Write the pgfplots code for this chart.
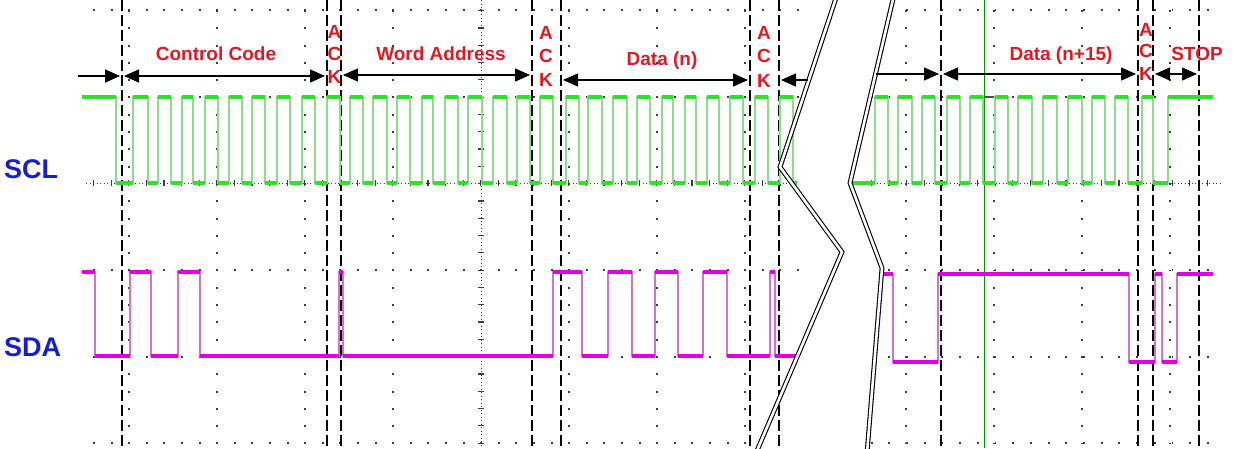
\documentclass[border=0pt]{standalone}
\usepackage{fontspec}
\setmainfont{Liberation Sans}
\usepackage{pgfplots}
\pgfplotsset{compat=1.18}
\usetikzlibrary{arrows.meta}
\definecolor{sclgreen}{RGB}{45,225,45}
\definecolor{sclgreenedge}{RGB}{140,222,140}
\definecolor{sdamag}{RGB}{225,0,225}
\definecolor{sdamagedge}{RGB}{210,115,210}
\definecolor{lblred}{RGB}{225,25,35}
\definecolor{lblblue}{RGB}{25,30,205}
\definecolor{gridgray}{RGB}{60,60,60}
\definecolor{markgreen}{RGB}{0,150,0}
\tikzset{
  arr/.style={black, line width=1.3pt},
  tri/.tip={Triangle[length=15pt,width=13pt]},
  dashv/.style={black, line width=1.7pt, dash pattern=on 11pt off 4pt},
  lbl/.style={text=lblred, font=\fontsize{19}{21}\selectfont\bfseries, inner sep=0pt, anchor=base},
  sig/.style={text=lblblue, font=\fontsize{27}{29}\selectfont\bfseries, inner sep=0pt, anchor=base west},
}
\begin{document}
\begin{tikzpicture}
\begin{axis}[
  width=1234pt, height=448pt, scale only axis,
  xmin=0, xmax=1234, ymin=0, ymax=448, y dir=reverse,
  axis line style={draw=none}, ticks=none,
  axis background/.style={fill=white},
  clip=true,
]
% ---------------- grid (left screen) ----------------
\pgfplotsinvokeforeach{10,97,270,357,443}{
  \addplot[gridgray, line width=1.9pt, dash pattern=on 1.9pt off 15.7pt] coordinates {(93,#1) (800,#1)};
}
\pgfplotsinvokeforeach{129,217,305,393,569,657,745}{
  \addplot[gridgray, line width=1.9pt, dash pattern=on 1.9pt off 15.4pt] coordinates {(#1,-7.3) (#1,448)};
}
% centre axes (left)
\addplot[gridgray, line width=1pt, dash pattern=on 1pt off 2.5pt] coordinates {(86,183) (800,183)};
\addplot[gridgray, line width=6pt, dash pattern=on 1.2pt off 16.4pt] coordinates {(93,183) (800,183)};
\addplot[gridgray, line width=1pt, dash pattern=on 1pt off 2.5pt] coordinates {(481,0) (481,448)};
\addplot[gridgray, line width=6pt, dash pattern=on 1.2pt off 16.1pt] coordinates {(481,-7.3) (481,448)};
% ---------------- grid (right screen) ----------------
\pgfplotsinvokeforeach{10,97,270,357,443}{
  \addplot[gridgray, line width=1.9pt, dash pattern=on 1.9pt off 15.8pt] coordinates {(870.6,#1) (1222,#1)};
}
\pgfplotsinvokeforeach{906,994,1082,1170}{
  \addplot[gridgray, line width=1.9pt, dash pattern=on 1.9pt off 15.4pt] coordinates {(#1,-7.3) (#1,448)};
}
\addplot[gridgray, line width=1pt, dash pattern=on 1pt off 2.5pt] coordinates {(852,183) (1222,183)};
\addplot[gridgray, line width=6pt, dash pattern=on 1.2pt off 16.5pt] coordinates {(870.6,183) (1222,183)};
% blank band between the break lines
\addplot[fill=white, draw=none] coordinates {(837,-5) (780,167) (842,252) (756,453) (867,453) (882,268) (850,183) (894,-5)};
% ---------------- marker lines ----------------
\pgfplotsinvokeforeach{122,327,341,532,561,750,779,941,1138,1153,1199}{
  \addplot[dashv] coordinates {(#1,0) (#1,448)};
}
\addplot[markgreen, line width=1pt] coordinates {(984,0) (984,448)};
\addplot[black!70, line width=1.2pt] coordinates {(984,97) (998,97)};
% ---------------- SCL ----------------
\addplot[sclgreenedge, line width=1.7pt, const plot] coordinates {
(82,97) (116,183) (133,97) (148,183) (158,97) (171,183) (182,97) (193,183)
(205,97) (218,183) (229,97) (242,183) (252,97) (265,183) (277,97) (290,183)
(302,97) (315,183) (327,97) (340,183) (350,97) (363,183) (373,97) (387,183)
(397,97) (410,183) (422,97) (433,183) (445,97) (458,183) (468,97) (482,183)
(493,97) (507,183) (517,97) (530,183) (540,97) (553,183) (566,97) (579,183)
(588,97) (602,183) (613,97) (627,183) (637,97) (650,183) (662,97) (673,183)
(685,97) (696,183) (707,97) (719,183) (730,97) (743,183) (755,97) (768,183)
(780,97) (793,183) (797,183)};
\addplot[sclgreen, line width=4pt, jump mark left] coordinates {
(82,97) (116,183) (133,97) (148,183) (158,97) (171,183) (182,97) (193,183)
(205,97) (218,183) (229,97) (242,183) (252,97) (265,183) (277,97) (290,183)
(302,97) (315,183) (327,97) (340,183) (350,97) (363,183) (373,97) (387,183)
(397,97) (410,183) (422,97) (433,183) (445,97) (458,183) (468,97) (482,183)
(493,97) (507,183) (517,97) (530,183) (540,97) (553,183) (566,97) (579,183)
(588,97) (602,183) (613,97) (627,183) (637,97) (650,183) (662,97) (673,183)
(685,97) (696,183) (707,97) (719,183) (730,97) (743,183) (755,97) (768,183)
(780,97) (793,183) (797,183)};
\addplot[sclgreenedge, line width=1.7pt, const plot] coordinates {
(852,183) (875,97) (888,183) (898,97) (912,183) (922,97) (935,183) (947,97)
(960,183) (970,97) (983,183) (995,97) (1008,183) (1018,97) (1032,183) (1043,97)
(1057,183) (1068,97) (1082,183) (1092,97) (1105,183) (1115,97) (1128,183)
(1142,97) (1153,183) (1168,97) (1213,97)};
\addplot[sclgreen, line width=4pt, jump mark left] coordinates {
(852,183) (875,97) (888,183) (898,97) (912,183) (922,97) (935,183) (947,97)
(960,183) (970,97) (983,183) (995,97) (1008,183) (1018,97) (1032,183) (1043,97)
(1057,183) (1068,97) (1082,183) (1092,97) (1105,183) (1115,97) (1128,183)
(1142,97) (1153,183) (1168,97) (1213,97)};
% ---------------- SDA ----------------
\addplot[sdamagedge, line width=1.7pt, const plot] coordinates {
(82,272) (95,356) (130,272) (151,356) (178,272) (200,356) (339,272) (343,356)
(553,272) (582,356) (608,272) (632,356) (655,272) (678,356) (703,272) (727,356)
(770,272) (775,356) (798,356)};
\addplot[sdamag, line width=3.8pt, jump mark left] coordinates {
(82,272) (95,356) (130,272) (151,356) (178,272) (200,356) (339,272) (343,356)
(553,272) (582,356) (608,272) (632,356) (655,272) (678,356) (703,272) (727,356)
(770,272) (775,356) (798,356)};
\addplot[sdamagedge, line width=1.7pt, const plot] coordinates {
(881,274) (893,362) (938,274) (1129,362) (1155,274) (1162,362) (1177,274) (1213,274)};
\addplot[sdamag, line width=3.8pt, jump mark left] coordinates {
(881,274) (893,362) (938,274) (1129,362) (1155,274) (1162,362) (1177,274) (1213,274)};
% ---------------- break lines ----------------
\addplot[black, line width=1.1pt, double=white, double distance=2.6pt] coordinates {(837,-5) (780,167) (842,252) (756,453)};
\addplot[black, line width=1.1pt, double=white, double distance=2.6pt] coordinates {(894,-5) (850,183) (882,268) (867,453)};
% ---------------- arrows ----------------
\addplot[arr, -{tri}] coordinates {(78,76) (120,76)};
\addplot[arr, {tri}-{tri}] coordinates {(124,76) (325,76)};
\addplot[arr, {tri}-{tri}] coordinates {(343,75) (530,75)};
\addplot[arr, {tri}-{tri}] coordinates {(563,80) (748,80)};
\addplot[arr, {tri}-] coordinates {(781,80) (808,80)};
\addplot[arr, -{tri}] coordinates {(876,74) (939,74)};
\addplot[arr, {tri}-{tri}] coordinates {(943,74) (1136,74)};
\addplot[arr, {tri}-{tri}] coordinates {(1155,74) (1197,74)};
% ---------------- labels ----------------
\node[lbl] at (axis cs:216,60) {Control Code};
\node[lbl] at (axis cs:441,60) {Word Address};
\node[lbl] at (axis cs:662,65) {Data (n)};
\node[lbl] at (axis cs:1061,60) {Data (n+15)};
\node[lbl] at (axis cs:1197,60) {STOP};
\node[lbl] at (axis cs:334.5,38) {A};
\node[lbl] at (axis cs:334.5,60) {C};
\node[lbl] at (axis cs:334.5,83) {K};
\node[lbl] at (axis cs:546,39) {A};
\node[lbl] at (axis cs:546,62) {C};
\node[lbl] at (axis cs:546,86) {K};
\node[lbl] at (axis cs:764,39) {A};
\node[lbl] at (axis cs:764,62) {C};
\node[lbl] at (axis cs:764,87) {K};
\node[lbl] at (axis cs:1146,36) {A};
\node[lbl] at (axis cs:1146,57) {C};
\node[lbl] at (axis cs:1146,80) {K};
\node[sig] at (axis cs:4,178) {SCL};
\node[sig] at (axis cs:4,356) {SDA};
\end{axis}
\end{tikzpicture}
\end{document}
